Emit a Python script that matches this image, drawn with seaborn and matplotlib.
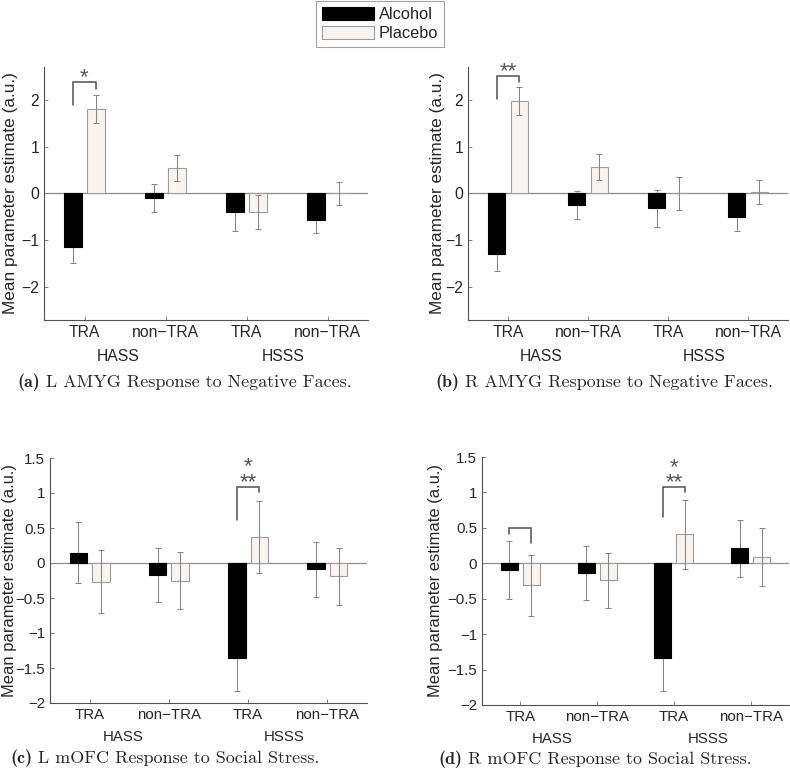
import numpy as np
import pandas as pd
import matplotlib
matplotlib.use('Agg')
import matplotlib.pyplot as plt
import seaborn as sns

# categories
conds = ['HASS TRA', 'HASS non-TRA', 'HSSS TRA', 'HSSS non-TRA']
tick_labels = ['TRA', 'non\u2212TRA', 'TRA', 'non\u2212TRA']
group_names = ['HASS', 'HSSS']
drugs = ['Alcohol', 'Placebo']

# (a) L AMYG, negative faces
a_alc = [-1.15, -0.10, -0.40, -0.57]
a_alc_se = [0.33, 0.30, 0.40, 0.28]
a_pla = [1.80, 0.55, -0.40, 0.00]
a_pla_se = [0.30, 0.28, 0.36, 0.25]

# (b) R AMYG, negative faces
b_alc = [-1.30, -0.25, -0.32, -0.50]
b_alc_se = [0.35, 0.30, 0.40, 0.29]
b_pla = [1.97, 0.57, 0.00, 0.03]
b_pla_se = [0.30, 0.28, 0.36, 0.26]

# (c) L mOFC, social stress
c_alc = [0.15, -0.17, -1.35, -0.09]
c_alc_se = [0.43, 0.39, 0.48, 0.39]
c_pla = [-0.27, -0.25, 0.37, -0.19]
c_pla_se = [0.45, 0.41, 0.51, 0.41]

# (d) R mOFC, social stress
d_alc = [-0.10, -0.14, -1.34, 0.21]
d_alc_se = [0.41, 0.38, 0.46, 0.40]
d_pla = [-0.31, -0.24, 0.41, 0.09]
d_pla_se = [0.43, 0.39, 0.49, 0.41]

# significance brackets: (condition, left foot, top, right foot, stars)
a_sig = [(0, 1.89, 2.37, 2.23, '*')]
b_sig = [(0, 2.02, 2.50, 2.39, '**')]
c_sig = [(2, 0.61, 1.09, 1.01, '*\n**')]
d_sig = [(0, 0.42, 0.50, 0.29, ''), (2, 0.65, 1.07, 1.00, '*\n**')]

captions = [('(a)', 'L AMYG Response to Negative Faces.'),
            ('(b)', 'R AMYG Response to Negative Faces.'),
            ('(c)', 'L mOFC Response to Social Stress.'),
            ('(d)', 'R mOFC Response to Social Stress.')]

colors = {'Alcohol': '#000000', 'Placebo': '#fbf4ef'}

sns.set_style('white')
plt.rcParams['font.family'] = ['Liberation Sans', 'DejaVu Sans']

W, H = 790, 772
fig = plt.figure(figsize=(W / 100, H / 100), dpi=100)


def px_axes(l, t, r, b):
    return fig.add_axes([l / W, 1 - b / H, (r - l) / W, (b - t) / H])


def draw_panel(ax, alc, alc_se, pla, pla_se, sig, ylim, yticks, fs, label_x, grp_off):
    df = pd.DataFrame({'cond': conds * 2,
                       'drug': ['Alcohol'] * 4 + ['Placebo'] * 4,
                       'value': alc + pla})
    sns.barplot(data=df, x='cond', y='value', hue='drug', order=conds, hue_order=drugs,
                palette=colors, width=0.57, gap=0.22, errorbar=None,
                edgecolor='black', linewidth=0.8, legend=False, ax=ax)
    for p in ax.containers[1]:
        p.set_edgecolor('#9c9c9c')
    ax.axhline(0, color='#8a8a8a', lw=0.9, zorder=0.95)

    for cont, vals, ses, z in zip(ax.containers, [alc, pla], [alc_se, pla_se], [0.9, 3]):
        xs = [p.get_x() + p.get_width() / 2 for p in cont]
        ax.errorbar(xs, vals, yerr=ses, fmt='none', ecolor='#858585', elinewidth=0.75,
                    capsize=2.5, capthick=0.75, zorder=z)

    for ci, y0, ytop, y1, stars in sig:
        xl = ax.containers[0][ci]
        xr = ax.containers[1][ci]
        x0 = xl.get_x() + xl.get_width() / 2
        x1 = xr.get_x() + xr.get_width() / 2
        ax.plot([x0, x0, x1, x1], [y0, ytop, ytop, y1], color='#505050', lw=1.1,
                solid_joinstyle='miter', zorder=4)
        if stars:
            ax.annotate(stars, xy=((x0 + x1) / 2, ytop), xytext=(0, -6),
                        textcoords='offset pixels', ha='center', va='bottom',
                        multialignment='center', linespacing=0.65, fontsize=16,
                        color='#555555', zorder=4)

    ax.set_xlim(-0.5, 3.5)
    ax.set_ylim(*ylim)
    ax.set_yticks(yticks)
    ax.set_yticklabels([f'{t:g}'.replace('-', '\u2212') for t in yticks])
    ax.set_xticks(range(4))
    ax.set_xticklabels(tick_labels)
    ax.set_xlabel('')
    ax.set_ylabel('Mean parameter estimate (a.u.)', fontsize=fs * 1.1)
    ax.yaxis.set_label_coords(label_x, 0.5)
    for side in ['top', 'right']:
        ax.spines[side].set_visible(False)
    for side in ['left', 'bottom']:
        ax.spines[side].set_color('#505050')
        ax.spines[side].set_linewidth(0.8)
    ax.tick_params(direction='in', length=3, width=0.6, color='#707070',
                   labelsize=fs, pad=3.5, left=True, bottom=True)
    for gx, name in zip([0.42, 2.45], group_names):
        ax.annotate(name, xy=(gx, 0), xycoords=('data', 'axes fraction'),
                    xytext=(0, -grp_off), textcoords='offset pixels',
                    ha='center', va='center', fontsize=fs)


ax_a = px_axes(44, 67, 368, 320)
ax_b = px_axes(468, 67, 788, 320)
ax_c = px_axes(50, 458, 367, 703)
ax_d = px_axes(482, 457, 789, 705)

ticks_top = [-2, -1, 0, 1, 2]
ticks_bot = [-2, -1.5, -1, -0.5, 0, 0.5, 1, 1.5]
draw_panel(ax_a, a_alc, a_alc_se, a_pla, a_pla_se, a_sig, (-2.7, 2.7), ticks_top, 11.3, -26 / 324, 37)
draw_panel(ax_b, b_alc, b_alc_se, b_pla, b_pla_se, b_sig, (-2.7, 2.7), ticks_top, 11.3, -23 / 320, 37)
draw_panel(ax_c, c_alc, c_alc_se, c_pla, c_pla_se, c_sig, (-2, 1.5), ticks_bot, 10.8, -33 / 317, 34)
draw_panel(ax_d, d_alc, d_alc_se, d_pla, d_pla_se, d_sig, (-2, 1.5), ticks_bot, 10.8, -39 / 307, 34)

# captions
renderer = fig.canvas.get_renderer()
for (tag, text), (x0, yb) in zip(captions, [(17, 387), (435, 387), (10, 763), (438, 764)]):
    t1 = fig.text(x0 / W, 1 - yb / H, tag, fontfamily='cmb10', fontsize=13, va='baseline')
    bb = t1.get_window_extent(renderer)
    fig.text(bb.x1 / W, 1 - yb / H, ' ' + text, fontfamily='cmr10', fontsize=13, va='baseline')

leg = fig.legend(ax_a.containers, drugs, loc='upper center', bbox_to_anchor=(380 / W, 1 - 1 / H),
                 fontsize=11.8, frameon=True, fancybox=False, edgecolor='#8c8c8c',
                 handlelength=3.2, handleheight=0.85, handletextpad=0.25, labelspacing=0.25,
                 borderpad=0.35, borderaxespad=0)
leg.get_frame().set_linewidth(0.8)

fig.savefig('out.png', dpi=100)
